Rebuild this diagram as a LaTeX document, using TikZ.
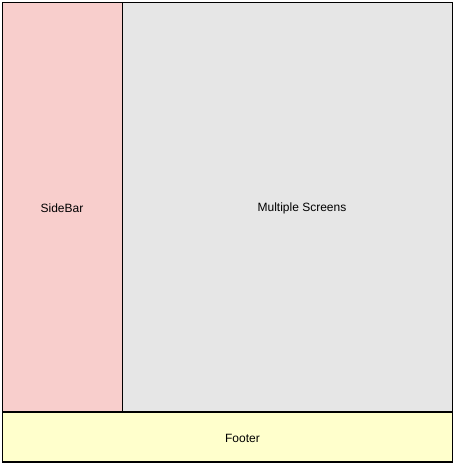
\documentclass[tikz,border=0pt]{standalone}
\usepackage{fontspec}
\setmainfont{Liberation Sans}
\definecolor{sidered}{HTML}{F8CECC}
\definecolor{maingray}{HTML}{E6E6E6}
\definecolor{footyellow}{HTML}{FFFFCC}
\tikzset{
  panel/.style={draw=black, line width=0.9pt},
  lbl/.style={inner sep=0pt, font=\fontsize{9pt}{11pt}\selectfont},
}
\begin{document}
\begin{tikzpicture}[x=0.75pt,y=-0.75pt]
\useasboundingbox (0,0) rectangle (456,466);
\fill[white] (0,0) rectangle (456,466);
\draw[panel, fill=sidered] (2.5,2.5) rectangle (122.5,412);
\draw[panel, fill=maingray] (122.5,2.5) rectangle (452.5,412);
\draw[panel, fill=footyellow] (2.5,412) rectangle (452.5,462);
\node[lbl] (side) at (62,208.5) {SideBar};
\node[lbl] (main) at (302,208.5) {Multiple Screens};
\node[lbl] (foot) at (242.5,438) {Footer};
\end{tikzpicture}
\end{document}
